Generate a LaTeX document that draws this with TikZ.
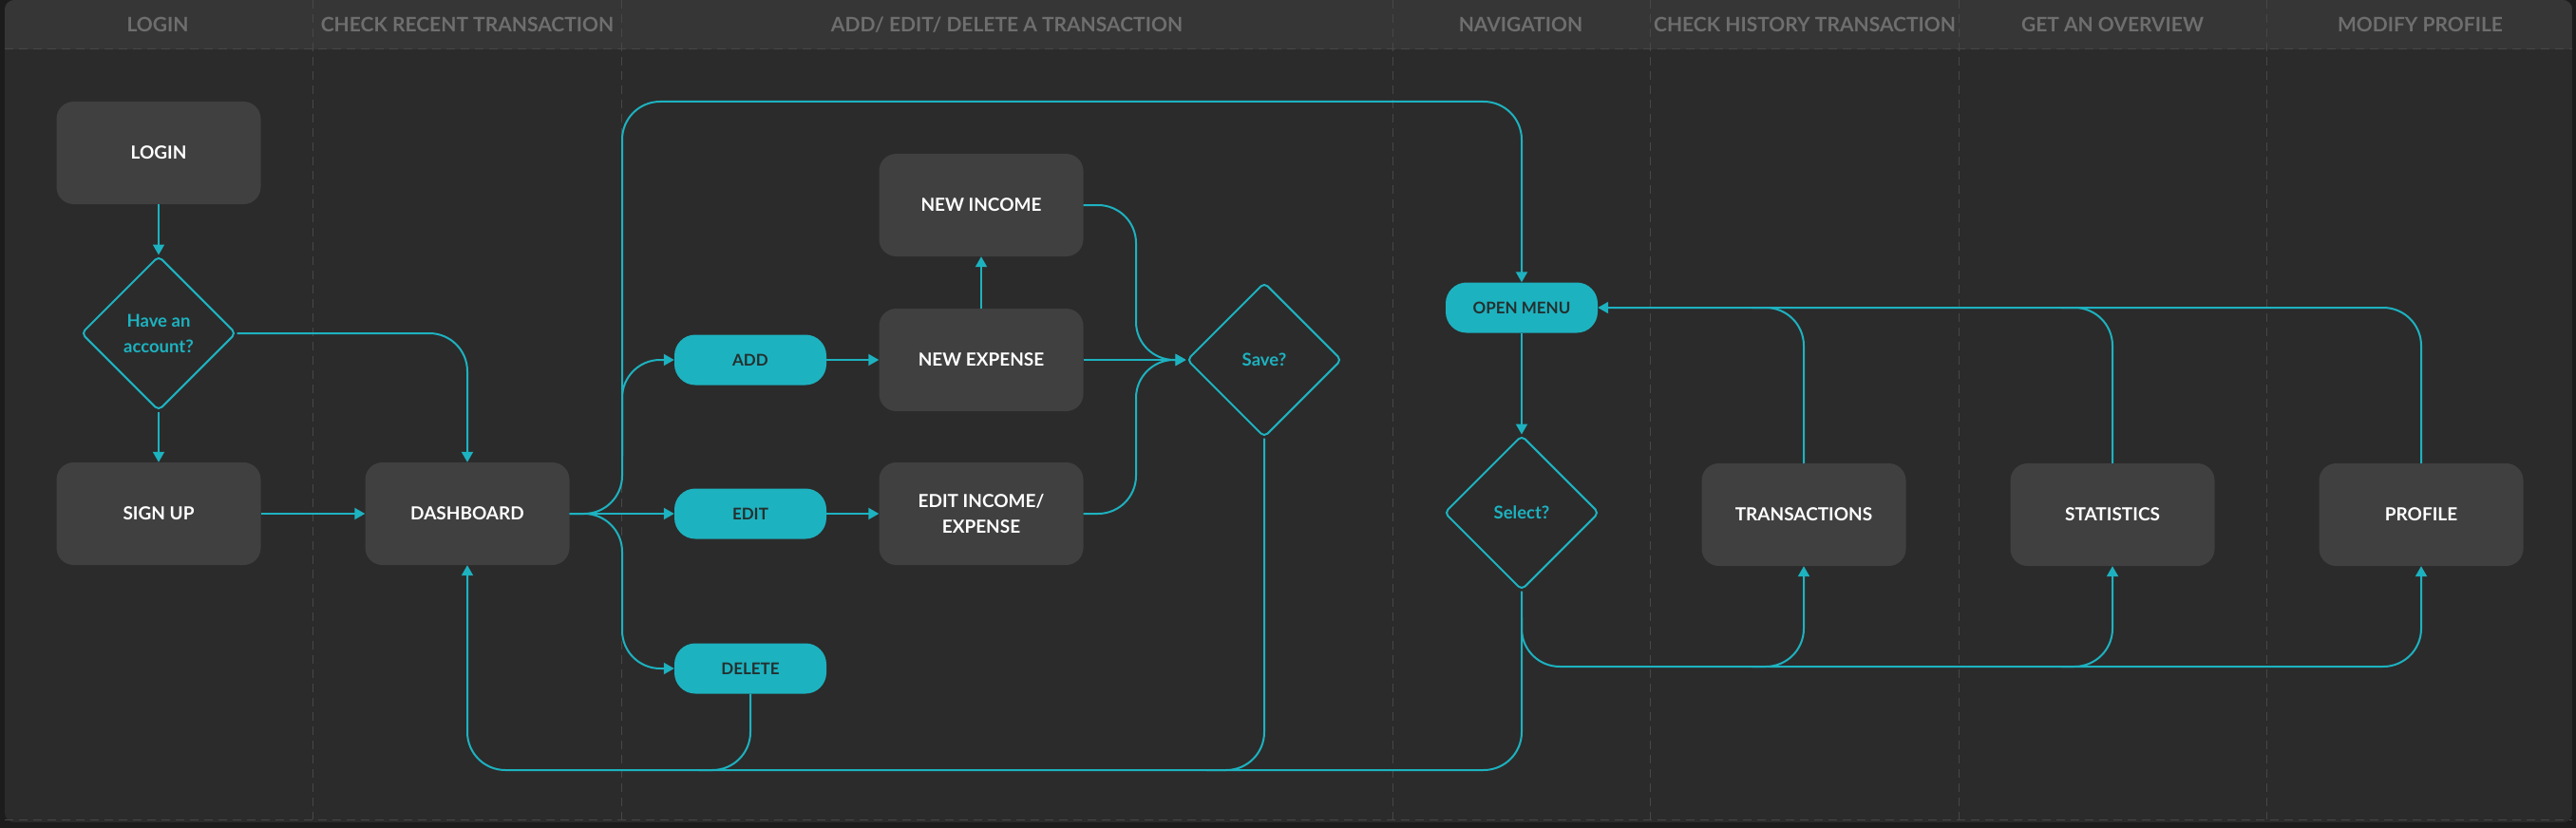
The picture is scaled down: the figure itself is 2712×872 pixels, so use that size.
\documentclass[tikz,border=0pt]{standalone}
\usepackage{fontspec}
\setmainfont{Lato}
\usetikzlibrary{shapes.geometric,arrows.meta}
\definecolor{bgout}{HTML}{1C1C1C}
\definecolor{panel}{HTML}{2B2B2B}
\definecolor{headbg}{HTML}{363636}
\definecolor{headtxt}{HTML}{6E6E6E}
\definecolor{boxbg}{HTML}{404040}
\definecolor{tealc}{HTML}{1DB2C0}
\definecolor{pilltxt}{HTML}{24302F}
\definecolor{divider}{HTML}{474747}
\begin{document}
\begin{tikzpicture}[x=1pt,y=-1pt,
  boxnode/.style={rectangle, rounded corners=18pt, fill=boxbg, minimum width=215pt, minimum height=108pt, text=white, align=center, inner sep=0pt, font=\fontsize{19}{27}\selectfont\bfseries},
  pillnode/.style={rectangle, rounded corners=22pt, fill=tealc, minimum width=160pt, minimum height=53pt, text=pilltxt, inner sep=0pt, font=\fontsize{17}{20}\selectfont\bfseries},
  decision/.style={diamond, aspect=1, draw=tealc, line width=2pt, minimum width=163pt, minimum height=163pt, inner sep=0pt, text=tealc, align=center, rounded corners=5pt, font=\fontsize{18.5}{27}\selectfont\bfseries},
  headnode/.style={text=headtxt, font=\fontsize{21}{24}\selectfont\bfseries},
  conn/.style={draw=tealc, line width=2pt, rounded corners=40pt},
  arr/.style={conn, -{Triangle[length=11pt,width=12pt]}},
  lanediv/.style={draw=divider, line width=1pt, dash pattern=on 9pt off 6pt}
]
\useasboundingbox (0,0) rectangle (2712,872);
% background
\fill[bgout] (0,0) rectangle (2712,872);
\begin{scope}
  \clip[rounded corners=10pt] (5,0) rectangle (2708,866);
  \fill[panel] (5,0) rectangle (2708,866);
  \fill[headbg] (5,0) rectangle (2708,52);
\end{scope}
\draw[lanediv] (5,52) -- (2708,52);
\draw[lanediv] (5,863) -- (2708,863);
\foreach \xx in {329,654,1466,1737,2062,2386} {
  \draw[lanediv] (\xx,0) -- (\xx,863);
}
% headers
\node[headnode] (h1) at (166,26) {LOGIN};
\node[headnode] (h2) at (492,26) {CHECK RECENT TRANSACTION};
\node[headnode] (h3) at (1060,26) {ADD/ EDIT/ DELETE A TRANSACTION};
\node[headnode] (h4) at (1601,26) {NAVIGATION};
\node[headnode] (h5) at (1900,26) {CHECK HISTORY TRANSACTION};
\node[headnode] (h6) at (2224,26) {GET AN OVERVIEW};
\node[headnode] (h7) at (2548,26) {MODIFY PROFILE};
% nodes
\node[boxnode] (login) at (167,161) {LOGIN};
\node[decision] (acct) at (167,351) {Have an\\account?};
\node[boxnode] (signup) at (167,541) {SIGN UP};
\node[boxnode] (dash) at (492,541) {DASHBOARD};
\node[pillnode] (add) at (790,379) {ADD};
\node[pillnode] (edit) at (790,541) {EDIT};
\node[pillnode] (del) at (790,704) {DELETE};
\node[boxnode] (ninc) at (1033,216) {NEW INCOME};
\node[boxnode] (nexp) at (1033,379) {NEW EXPENSE};
\node[boxnode] (einc) at (1033,541) {EDIT INCOME/\\EXPENSE};
\node[decision] (save) at (1331,379) {Save?};
\node[pillnode] (omenu) at (1602,324) {OPEN MENU};
\node[decision] (sel) at (1602,540) {Select?};
\node[boxnode] (trans) at (1899,542) {TRANSACTIONS};
\node[boxnode] (stat) at (2224,542) {STATISTICS};
\node[boxnode] (prof) at (2549,542) {PROFILE};
% bus coordinates
\coordinate (forkup) at (655,107);
\coordinate (bus) at (1602,811);
% connectors
\draw[arr] (login) -- (acct);
\draw[arr] (acct) -- (signup);
\draw[arr] (acct.east) -| (dash.north);
\draw[arr] (signup) -- (dash);
\draw[arr] (dash.east) -- (edit.west);
\draw[arr] (dash.east) -| (forkup) -| (omenu.north);
\draw[arr] (655,480) |- (add.west);
\draw[arr] (dash.east) -- (655,541) -- (655,704) -- (del.west);
\draw[arr] (add) -- (nexp);
\draw[arr] (edit) -- (einc);
\draw[arr] (nexp) -- (ninc);
\draw[arr] (nexp) -- (save);
\draw[arr] (ninc.east) -| (1196,379) -- (save.west);
\draw[arr] (einc.east) -| (1196,379) -- (save.west);
\draw[conn] (save.south) |- (1270,811);
\draw[conn] (del.south) |- (735,811);
\draw[arr] (omenu) -- (sel);
\draw[arr] (sel.south) -- (bus) -| (dash.south);
\draw[arr] (1602,650) |- (2549,702) -- (prof.south);
\draw[arr] (1845,702) -| (trans.south);
\draw[arr] (2170,702) -| (stat.south);
\draw[arr] (prof.north) |- (omenu.east);
\draw[conn] (trans.north) |- (1845,324);
\draw[conn] (stat.north) |- (2170,324);
\end{tikzpicture}
\end{document}
